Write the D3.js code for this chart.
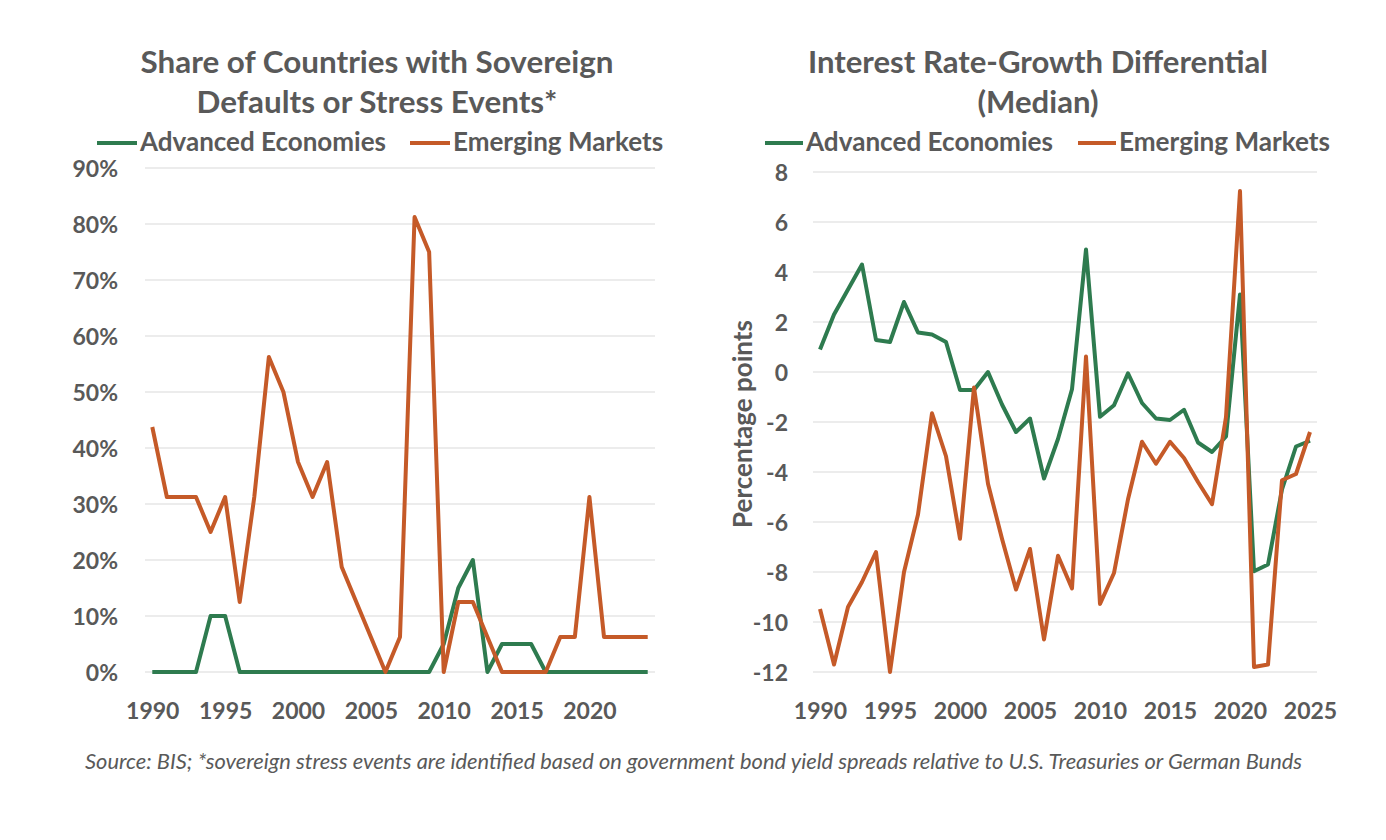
<!DOCTYPE html>
<html>
<head>
<meta charset="utf-8">
<script src="https://cdn.jsdelivr.net/npm/d3@7"></script>
<style>
  body { margin: 0; background: #fff; }
  svg { display: block; }
  text { font-family: Lato, "Open Sans", sans-serif; fill: #595959; }
</style>
</head>
<body>
<svg id="chart" width="1386" height="840"></svg>
<script>
// ---- data ----
const yearsShare = [1990, 1991, 1992, 1993, 1994, 1995, 1996, 1997, 1998, 1999,
  2000, 2001, 2002, 2003, 2004, 2005, 2006, 2007, 2008, 2009,
  2010, 2011, 2012, 2013, 2014, 2015, 2016, 2017, 2018, 2019,
  2020, 2021, 2022, 2023, 2024];
// share of countries, percent
const shareAdvanced = [0, 0, 0, 0, 10, 10, 0, 0, 0, 0,
  0, 0, 0, 0, 0, 0, 0, 0, 0, 0,
  5, 15, 20, 0, 5, 5, 5, 0, 0, 0,
  0, 0, 0, 0, 0];
const shareEmerging = [43.75, 31.25, 31.25, 31.25, 25, 31.25, 12.5, 31.25, 56.25, 50,
  37.5, 31.25, 37.5, 18.75, 12.5, 6.25, 0, 6.25, 81.25, 75,
  0, 12.5, 12.5, 6.25, 0, 0, 0, 0, 6.25, 6.25,
  31.25, 6.25, 6.25, 6.25, 6.25];

const yearsRg = [1990, 1991, 1992, 1993, 1994, 1995, 1996, 1997, 1998, 1999,
  2000, 2001, 2002, 2003, 2004, 2005, 2006, 2007, 2008, 2009,
  2010, 2011, 2012, 2013, 2014, 2015, 2016, 2017, 2018, 2019,
  2020, 2021, 2022, 2023, 2024, 2025];
// interest rate-growth differential, percentage points
const rgAdvanced = [0.9, 2.3, 3.3, 4.3, 1.28, 1.2, 2.8, 1.58, 1.5, 1.2,
  -0.72, -0.72, 0.0, -1.3, -2.4, -1.86, -4.26, -2.68, -0.69, 4.9,
  -1.79, -1.33, -0.05, -1.24, -1.86, -1.92, -1.51, -2.82, -3.2, -2.58,
  3.1, -7.97, -7.7, -4.7, -2.98, -2.75];
const rgEmerging = [-9.48, -11.7, -9.4, -8.4, -7.2, -12.0, -8.0, -5.7, -1.65, -3.37,
  -6.67, -0.62, -4.47, -6.67, -8.7, -7.08, -10.7, -7.35, -8.66, 0.62,
  -9.28, -8.04, -5.09, -2.79, -3.67, -2.79, -3.44, -4.4, -5.29, -1.8,
  7.24, -11.8, -11.7, -4.33, -4.08, -2.4];

const seriesNames = ["Advanced Economies", "Emerging Markets"];
const shareTicks = [0, 10, 20, 30, 40, 50, 60, 70, 80, 90];
const rgTicks = [-12, -10, -8, -6, -4, -2, 0, 2, 4, 6, 8];
const shareYearTicks = [1990, 1995, 2000, 2005, 2010, 2015, 2020];
const rgYearTicks = [1990, 1995, 2000, 2005, 2010, 2015, 2020, 2025];

const green = "#2e7b4f",
  orange = "#c55a28",
  grid = "#d9d9d9";

const svg = d3.select("#chart");
svg.append("rect").attr("width", 1386).attr("height", 840).attr("fill", "#fff");

// scale the font so a text fills a given width
function fit(sel, width) {
  const fs = parseFloat(sel.attr("font-size"));
  const w = sel.node().getComputedTextLength();
  sel.attr("font-size", (fs * width / w).toFixed(2));
  return +sel.attr("font-size");
}

function drawPanel(opt) {
  const x = d3.scalePoint().domain(opt.years).range([opt.left, opt.right]).padding(0.5);
  const y = d3.scaleLinear().domain(opt.yDomain).range([opt.bottom, opt.top]);
  const g = svg.append("g");

  // gridlines
  g.selectAll(".grid")
    .data(opt.yTicks)
    .enter()
    .append("line")
    .attr("x1", opt.left)
    .attr("x2", opt.right)
    .attr("y1", d => y(d))
    .attr("y2", d => y(d))
    .attr("stroke", grid)
    .attr("stroke-width", 1.2);

  // y axis labels
  const yAxis = d3.axisLeft(y).tickValues(opt.yTicks).tickSize(0).tickPadding(0)
    .tickFormat(opt.yFormat);
  const ya = g.append("g").attr("transform", "translate(" + opt.yLabelX + ",0)").call(yAxis);
  ya.select(".domain").remove();
  ya.selectAll("text")
    .attr("font-size", 23)
    .attr("font-weight", "bold")
    .attr("font-family", null)
    .attr("fill", null)
    .attr("dy", "0.36em");

  // x axis labels
  const xAxis = d3.axisBottom(x).tickValues(opt.xTicks).tickSize(0).tickPadding(0);
  const xa = g.append("g").attr("transform", "translate(0," + opt.xLabelY + ")").call(xAxis);
  xa.select(".domain").remove();
  xa.selectAll("text")
    .attr("font-size", 23)
    .attr("font-weight", "bold")
    .attr("font-family", null)
    .attr("fill", null)
    .attr("dy", 0);

  // lines
  const line = d3.line()
    .x((d, i) => x(opt.years[i]))
    .y(d => y(d));
  [[opt.advanced, green], [opt.emerging, orange]].forEach(function(s) {
    g.append("path")
      .attr("d", line(s[0]))
      .attr("fill", "none")
      .attr("stroke", s[1])
      .attr("stroke-width", 4)
      .attr("stroke-linejoin", "round")
      .attr("stroke-linecap", "butt");
  });

  // title, two lines at the same size
  let titleFs = null;
  opt.title.forEach(function(t, i) {
    const tt = g.append("text")
      .attr("x", opt.titleX)
      .attr("y", 73 + i * 40)
      .attr("text-anchor", "middle")
      .attr("font-size", 28)
      .attr("font-weight", "bold")
      .text(t);
    if (i === 0) titleFs = fit(tt, opt.titleWidth);
    else tt.attr("font-size", titleFs);
  });

  // legend
  let legFs = null;
  seriesNames.forEach(function(name, i) {
    const lx = opt.legendX[i];
    g.append("line")
      .attr("x1", lx)
      .attr("x2", lx + opt.legendLine)
      .attr("y1", 143)
      .attr("y2", 143)
      .attr("stroke", i === 0 ? green : orange)
      .attr("stroke-width", 4);
    const lt = g.append("text")
      .attr("x", lx + opt.legendLine + 3)
      .attr("y", 151)
      .attr("font-size", 24)
      .attr("font-weight", "bold")
      .text(name);
    if (i === 0) legFs = fit(lt, opt.legendWidth);
    else lt.attr("font-size", legFs);
  });
  return g;
}

drawPanel({
  years: yearsShare,
  advanced: shareAdvanced,
  emerging: shareEmerging,
  left: 145, right: 655, top: 168, bottom: 672,
  yDomain: [0, 90],
  yTicks: shareTicks,
  yFormat: d => d + "%",
  xTicks: shareYearTicks,
  yLabelX: 118,
  xLabelY: 719,
  title: ["Share of Countries with Sovereign", "Defaults or Stress Events*"],
  titleX: 377,
  titleWidth: 473,
  legendX: [97, 410],
  legendLine: 40,
  legendWidth: 246
});

drawPanel({
  years: yearsRg,
  advanced: rgAdvanced,
  emerging: rgEmerging,
  left: 813, right: 1317, top: 172, bottom: 672,
  yDomain: [-12, 8],
  yTicks: rgTicks,
  yFormat: d => String(d),
  xTicks: rgYearTicks,
  yLabelX: 788,
  xLabelY: 719,
  title: ["Interest Rate-Growth Differential", "(Median)"],
  titleX: 1038,
  titleWidth: 460,
  legendX: [765, 1078],
  legendLine: 38,
  legendWidth: 247
});

// right y axis title
const yTitle = svg.append("text")
  .attr("transform", "translate(742,424) rotate(-90)")
  .attr("text-anchor", "middle")
  .attr("dominant-baseline", "central")
  .attr("font-size", 22)
  .attr("font-weight", "bold")
  .text("Percentage points");
fit(yTitle, 208);

// source note
const note = svg.append("text")
  .attr("x", 85)
  .attr("y", 769)
  .attr("font-size", 18)
  .attr("font-style", "italic")
  .text("Source: BIS; *sovereign stress events are identified based on government bond yield spreads relative to U.S. Treasuries or German Bunds");
fit(note, 1217);
</script>
</body>
</html>
